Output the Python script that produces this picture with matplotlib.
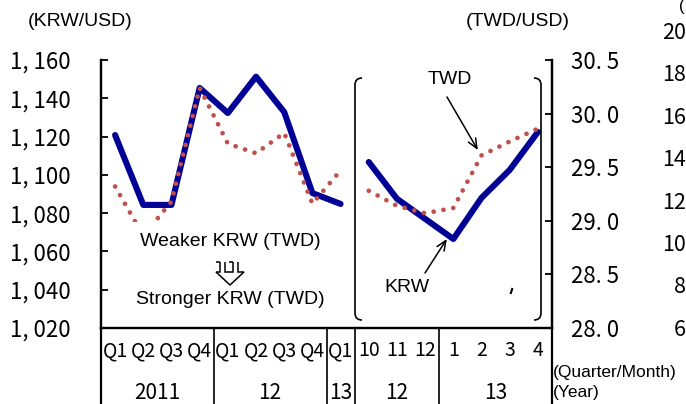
import matplotlib
matplotlib.use('Agg')
import matplotlib.pyplot as plt
import matplotlib.patches as mpatches
from matplotlib.path import Path
from matplotlib.transforms import blended_transform_factory

# categories on the x axis (9 quarters, then 7 months)
x_labels = ['Q1', 'Q2', 'Q3', 'Q4', 'Q1', 'Q2', 'Q3', 'Q4', 'Q1',
            '10', '11', '12', '1', '2', '3', '4']
year_labels = ['2011', '12', '13', '12', '13']
year_centers = [1.5, 5.5, 8, 10, 13.5]
separators = [3.5, 7.5, 8.5, 11.5]

# KRW/USD (left axis) and TWD/USD (right axis)
krw_quarterly = [1120.8, 1084.3, 1084.3, 1145.4, 1132.3, 1151.3, 1132.8, 1090.5, 1084.8]
twd_quarterly = [29.32, 28.86, 29.18, 30.24, 29.72, 29.63, 29.82, 29.16, 29.47]
krw_monthly = [1106.7, 1087.5, 1077.0, 1066.5, 1088.0, 1102.6, 1122.4]
twd_monthly = [29.28, 29.14, 29.07, 29.12, 29.61, 29.74, 29.86]

krw_ticks = [1020, 1040, 1060, 1080, 1100, 1120, 1140, 1160]
krw_tick_labels = ['1, 020', '1, 040', '1, 060', '1, 080', '1, 100', '1, 120', '1, 140', '1, 160']
twd_ticks = [28.0, 28.5, 29.0, 29.5, 30.0, 30.5]
twd_tick_labels = ['28. 0', '28. 5', '29. 0', '29. 5', '30. 0', '30. 5']

# tick labels of the neighbouring chart, at the right edge
side_labels = ['20', '18', '16', '14', '12', '10', '8', '6']

W, H = 686, 404
JP = 'Noto Sans CJK JP'
EN = 'Liberation Sans'
BLUE = '#000096'
RED = '#C0504D'


def fpos(x, y):
    # picture pixels (from top-left) -> figure fraction
    return (x / W, 1 - y / H)


def line(fig, pts, lw=1.1, z=5):
    p = Path([fpos(*q) for q in pts])
    fig.add_artist(mpatches.PathPatch(p, transform=fig.transFigure, fill=False,
                                      lw=lw, edgecolor='black', zorder=z,
                                      joinstyle='miter'))


def main():
    fig = plt.figure(figsize=(W / 100, H / 100), dpi=100)
    ax = fig.add_axes([101 / W, 1 - 328 / H, 451 / W, 268 / H])
    ax2 = ax.twinx()

    qx = list(range(len(krw_quarterly)))
    mx = [len(krw_quarterly) + i for i in range(len(krw_monthly))]

    ax.plot(qx, krw_quarterly, color=BLUE, lw=4.4, solid_joinstyle='round', solid_capstyle='round')
    ax.plot(mx, krw_monthly, color=BLUE, lw=4.4, solid_joinstyle='round', solid_capstyle='round')
    for xs, ys in [(qx, twd_quarterly), (mx, twd_monthly)]:
        ax2.plot(xs, ys, color=RED, lw=3.4, linestyle=(0, (0.01, 2.1)),
                 dash_capstyle='round')

    ax.set_xlim(-0.5, len(x_labels) - 0.5)
    ax.set_ylim(1020, 1160)
    ax2.set_ylim(28.0, 30.5)

    ax.set_yticks(krw_ticks)
    ax.set_yticklabels(krw_tick_labels, fontfamily=JP, fontsize=16)
    ax2.set_yticks(twd_ticks)
    ax2.set_yticklabels(twd_tick_labels, fontfamily=JP, fontsize=16)
    ax.tick_params(axis='y', direction='in', length=5, width=1.3, pad=22)
    ax2.tick_params(axis='y', direction='in', length=5, width=1.3, pad=14)

    ax.set_xticks(range(len(x_labels)))
    ax.set_xticklabels(x_labels, fontfamily=JP, fontsize=14)
    ax.tick_params(axis='x', length=0, pad=9)

    for a in (ax, ax2):
        a.spines['top'].set_visible(False)
        for s in ('left', 'right', 'bottom'):
            a.spines[s].set_linewidth(1.6)

    # table below the axis
    blend = blended_transform_factory(ax.transData, ax.transAxes)
    for xv in [-0.5, len(x_labels) - 0.5]:
        ax.plot([xv, xv], [0, -0.32], color='black', lw=1.6, transform=blend, clip_on=False)
    for xv in separators:
        ax.plot([xv, xv], [0, -0.32], color='black', lw=1.2, transform=blend, clip_on=False)
    for lab, xc in zip(year_labels, year_centers):
        ax.text(xc, -0.243, lab, transform=blend, ha='center', va='center',
                fontfamily=JP, fontsize=15)

    # axis unit labels
    fig.text(*fpos(80, 22), '(KRW/USD)', ha='center', va='center', fontfamily=EN, fontsize=14)
    fig.text(*fpos(518, 22), '(TWD/USD)', ha='center', va='center', fontfamily=EN, fontsize=14)
    fig.text(*fpos(553, 372), '(Quarter/Month)', ha='left', va='center', fontfamily=EN, fontsize=12.5)
    fig.text(*fpos(553, 393), '(Year)', ha='left', va='center', fontfamily=EN, fontsize=12.5)

    # white text box that hides part of the TWD line
    x0, y0 = fpos(124, 312)
    x1, y1 = fpos(336, 222)
    fig.add_artist(mpatches.Rectangle((x0, y0), x1 - x0, y1 - y0, transform=fig.transFigure,
                                      facecolor='white', edgecolor='none', zorder=3))
    fig.text(*fpos(230, 242), 'Weaker KRW (TWD)', ha='center', va='center',
             fontfamily=EN, fontsize=14, zorder=4)
    fig.text(*fpos(230, 300), 'Stronger KRW (TWD)', ha='center', va='center',
             fontfamily=EN, fontsize=14, zorder=4)

    # hollow double down arrow
    line(fig, [(220, 262), (220, 272), (216, 272), (230, 285), (244, 272),
               (238, 272), (238, 262)])
    line(fig, [(225, 262), (225, 272), (233, 272), (233, 262)])
    line(fig, [(216, 262), (220, 262)])
    line(fig, [(229, 262), (233, 262)])

    # rounded bracket around the monthly section
    r = 7
    codes = [Path.MOVETO, Path.CURVE3, Path.CURVE3, Path.LINETO, Path.CURVE3, Path.CURVE3]
    left = Path([fpos(362, 78), fpos(355, 78), fpos(355, 78 + r), fpos(355, 320 - r),
                 fpos(355, 320), fpos(362, 320)], codes)
    right = Path([fpos(534, 78), fpos(541, 78), fpos(541, 78 + r), fpos(541, 320 - r),
                  fpos(541, 320), fpos(534, 320)], codes)
    for p in (left, right):
        fig.add_artist(mpatches.PathPatch(p, transform=fig.transFigure, fill=False,
                                          lw=1.2, edgecolor='black', zorder=2))
    line(fig, [(510.5, 294), (512.5, 288)], lw=1.5, z=2)

    # labelled arrows
    fig.text(*fpos(450, 80), 'TWD', ha='center', va='center', fontfamily=EN, fontsize=14)
    ax2.annotate('', xy=(mx[4] - 0.13, twd_monthly[4] + 0.05), xycoords='data',
                 xytext=fpos(447, 97), textcoords='figure fraction',
                 arrowprops=dict(arrowstyle='->,head_length=0.7,head_width=0.3',
                                 lw=1.1, color='black', shrinkA=0, shrinkB=0))
    fig.text(*fpos(407, 288), 'KRW', ha='center', va='center', fontfamily=EN, fontsize=14)
    ax.annotate('', xy=(mx[3] - 0.23, krw_monthly[3]), xycoords='data',
                xytext=fpos(425, 273), textcoords='figure fraction',
                arrowprops=dict(arrowstyle='->,head_length=0.7,head_width=0.3',
                                lw=1.1, color='black', shrinkA=0, shrinkB=0))

    # neighbouring chart's labels at the right edge
    for i, lab in enumerate(side_labels):
        fig.text(*fpos(686, 33 + 42.4 * i), lab, ha='right', va='center',
                 fontfamily=JP, fontsize=15.5)
    fig.text(*fpos(685, 6), '(', ha='right', va='center', fontfamily=EN, fontsize=12)

    fig.savefig('out.png', dpi=100)


if __name__ == '__main__':
    main()
